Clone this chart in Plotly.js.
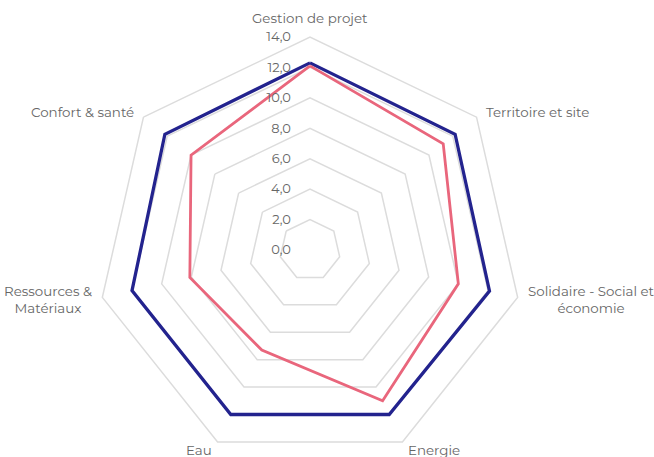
<!DOCTYPE html>
<html><head><meta charset="utf-8">
<script src="https://cdn.plot.ly/plotly-3.0.1.min.js"></script>
<style>html,body{margin:0;padding:0;overflow:hidden;background:#fff;}#chart{width:654px;height:470px;}</style>
</head><body><div id="chart"></div>
<script>
var categories = ["Gestion de projet", "Territoire et site", "Solidaire - Social et<br>économie", "Energie", "Eau", "Ressources &<br>Matériaux", "Confort & santé"];
var seriesBlue = [12.3, 12.2, 12.1, 12.0, 12.0, 12.0, 12.2];
var seriesPink = [12.1, 11.2, 10.0, 11.0, 7.3, 8.1, 10.0];
var radialTicks = [0, 2, 4, 6, 8, 10, 12, 14];
var rMax = 14;

function closed(a){ return a.concat([a[0]]); }

var traces = [
  {type:'scatterpolar', r: closed(seriesBlue), theta: closed(categories), mode:'lines',
   line:{color:'#23238E', width:3.3}, name:'Série 1', hoverinfo:'skip'},
  {type:'scatterpolar', r: closed(seriesPink), theta: closed(categories), mode:'lines',
   line:{color:'#E9667C', width:2.8}, name:'Série 2', hoverinfo:'skip'}
];

var W = 654, H = 470, cx = 310, cy = 250, R = 213;

// category labels placed just outside each vertex of the outer ring
var annotations = categories.map(function(c, i){
  var ang = Math.PI/2 - i*2*Math.PI/categories.length;
  var ca = Math.cos(ang), sa = Math.sin(ang);
  var pad = 9;
  var px = cx + (R + pad)*ca, py = cy - (R + pad)*sa;
  var xa = Math.abs(ca) < 0.05 ? 'center' : (ca > 0 ? 'left' : 'right');
  var ya = (i === 0) ? 'bottom' : 'middle';
  return {text:c, x:px/W, y:(H-py)/H, xref:'paper', yref:'paper', showarrow:false,
          xanchor:xa, yanchor:ya, align:'center',
          font:{size:13.4, color:'#666666'}};
});

var layout = {
  width: W, height: H,
  margin:{l:0,r:0,t:0,b:0},
  paper_bgcolor:'#fff',
  showlegend:false,
  separators: ', ',
  font:{family:'Montserrat, "Open Sans", Lato, sans-serif', color:'#666666', size:12},
  annotations: annotations,
  polar:{
    domain:{x:[(cx-R)/W,(cx+R)/W], y:[(H-cy-R)/H,(H-cy+R)/H]},
    gridshape:'linear',
    bgcolor:'rgba(0,0,0,0)',
    radialaxis:{range:[0,rMax], tickvals:radialTicks, tickformat:'.1f', angle:90, tickangle:90,
      side:'counterclockwise', showline:false, ticks:'outside', ticklen:14, tickcolor:'rgba(0,0,0,0)',
      gridcolor:'#dcdcdc', gridwidth:1.5,
      tickfont:{size:13, color:'#666666'}},
    angularaxis:{direction:'clockwise', rotation:90, showgrid:false, showline:true,
      linecolor:'#dcdcdc', linewidth:1.5, ticks:'', showticklabels:false}
  }
};
Plotly.newPlot('chart', traces, layout, {staticPlot:true});
</script></body></html>
